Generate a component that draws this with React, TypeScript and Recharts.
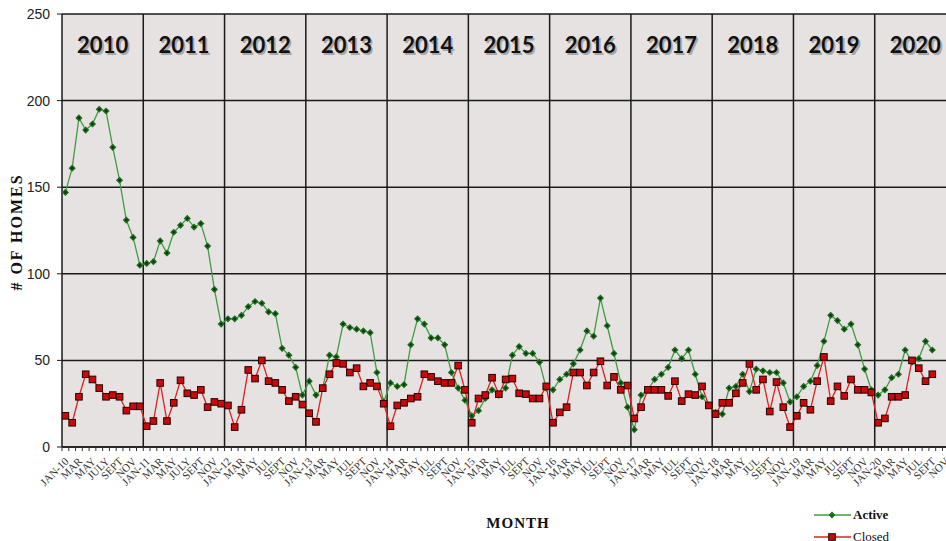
import React from "react";
import {
  LineChart,
  Line,
  XAxis,
  YAxis,
  CartesianGrid,
  ReferenceLine,
  Legend,
  Label,
} from "recharts";

// monthly counts, Jan 2010 .. Sep 2020
const active = [
  147, 161, 190, 183, 186.5, 195, 194, 173, 154, 131, 121, 105,
  106, 107, 119, 112, 124, 128, 132, 127, 129, 116, 91, 71,
  74, 74, 76, 81, 84, 83, 78, 77, 57, 53, 46, 30,
  38, 30, 34, 53, 52, 71, 69, 68, 67, 66, 43, 26,
  37, 35, 36, 59, 74, 71, 63, 63, 59, 43, 34, 27,
  18, 21, 28, 33, 30, 34, 53, 58, 54, 54, 49, 34,
  33, 39, 42, 48, 56, 67, 64, 86, 70, 54, 37, 23,
  10, 30, 33, 39, 42, 46, 56, 51, 56, 42, 29, 24,
  20, 19, 34, 35, 42, 32, 45, 44, 43, 43, 37, 26,
  29, 35, 38, 47, 61, 76, 73, 68, 71, 59, 45, 33,
  30, 33, 40, 42, 56, 49, 51, 61, 56,
];

const closed = [
  18, 14, 29, 42, 39, 34, 29, 30, 29, 21, 23.5, 23.5,
  12, 15, 37, 15, 25.5, 38.5, 31, 30, 33, 23, 26, 25,
  24, 11.5, 21.5, 44.5, 39.5, 50, 38, 37, 33, 26.5, 29, 24.5,
  19.5, 14.5, 34, 42, 48.5, 48, 43, 45.5, 35, 37, 35, 25,
  12, 24, 25.5, 28, 29, 42, 40.5, 38, 37, 37, 47, 33,
  14, 28, 30, 40, 30.5, 39, 39.5, 31, 30.5, 28, 28, 35,
  14, 20, 23, 43, 43, 35.5, 43, 49.5, 35.5, 40.5, 33, 35.5,
  16.5, 23, 33, 33, 33, 29.5, 38, 26.5, 30.5, 30, 35, 24,
  19, 25.5, 25.5, 31, 37, 48, 33, 39, 20.5, 37.5, 23, 11.5,
  18, 25.5, 21.5, 38, 52, 26.5, 35, 29.5, 39, 33, 33, 31.5,
  14, 16.5, 29, 29, 30, 50, 45.5, 38, 42,
];

// every other month is labelled
const monthLabels = [
  "JAN-10", "MAR", "MAY", "JULY", "SEPT", "NOV",
  "JAN-11", "MAR", "MAY", "JULY", "SEPT", "NOV",
  "JAN-12", "MAR", "MAY", "JUL", "SEPT", "NOV",
  "JAN-13", "MAR", "MAY", "JUL", "SEPT", "NOV",
  "JAN-14", "MAR", "MAY", "JUL", "SEPT", "NOV",
  "JAN-15", "MAR", "MAY", "JUL", "SEPT", "NOV",
  "JAN-16", "MAR", "MAY", "JUL", "SEPT", "NOV",
  "JAN-17", "MAR", "MAY", "JUL", "SEPT", "NOV",
  "JAN-18", "MAR", "MAY", "JUL", "SEPT", "NOV",
  "JAN-19", "MAR", "MAY", "JUL", "SEPT", "NOV",
  "JAN-20", "MAR", "MAY", "JUL", "SEPT", "NOV",
];

const years = ["2010", "2011", "2012", "2013", "2014", "2015", "2016", "2017", "2018", "2019", "2020"];
const yTicks = [0, 50, 100, 150, 200, 250];

const data = active.map((a, i) => ({ i, active: a, closed: closed[i] }));

const N_BANDS = 132;
const bandEdges = Array.from({ length: N_BANDS + 1 }, (_, k) => k - 0.5);
const yearBreaks = years.slice(1).map((_, k) => (k + 1) * 12 - 0.5);

const PLOT_LEFT = 62;
const PLOT_RIGHT = 956;
const BAND = (PLOT_RIGHT - PLOT_LEFT) / N_BANDS;

const serif = "'Liberation Serif', 'DejaVu Serif', serif";

const MonthTick = (props: any) => {
  const { x, y, payload } = props;
  const k = Math.round(payload.value + 0.5);
  if (k % 2 !== 0 || k / 2 >= monthLabels.length) return <g />;
  const lx = x + BAND / 2 + 4;
  const ly = y + 9;
  return (
    <text
      x={lx}
      y={ly}
      transform={`rotate(-45 ${lx} ${ly})`}
      textAnchor="end"
      fontSize={11}
      fontFamily={serif}
      fill="#333"
    >
      {monthLabels[k / 2]}
    </text>
  );
};

const yearLabel = (year: string) => (props: any) => {
  const vb = props.viewBox || {};
  const x = vb.x ?? 0;
  const top = vb.y ?? 14;
  return (
    <g fontFamily="Lato, 'Open Sans', sans-serif" fontSize={22} fontWeight={700} textAnchor="middle">
      <text x={x + 1.8} y={top + 40.5} fill="#777" opacity={0.55}>
        {year}
      </text>
      <text x={x} y={top + 39} fill="#111">
        {year}
      </text>
    </g>
  );
};

const GreenDot = (props: any) => {
  const { cx, cy } = props;
  if (cx == null || cy == null) return <g />;
  return (
    <g>
      <polygon
        points={`${cx},${cy - 3.6} ${cx + 3.6},${cy} ${cx},${cy + 3.6} ${cx - 3.6},${cy}`}
        fill="#1d6b1d"
      />
      <circle cx={cx} cy={cy} r={1.3} fill="#0a3a0a" />
    </g>
  );
};

const RedDot = (props: any) => {
  const { cx, cy } = props;
  if (cx == null || cy == null) return <g />;
  return <rect x={cx - 3.3} y={cy - 3.3} width={6.6} height={6.6} fill="#c80a0a" stroke="#2a0000" strokeWidth={1} />;
};

const LegendBox = () => (
  <div style={{ fontFamily: serif, fontSize: 13, color: "#111", lineHeight: "22px" }}>
    <div style={{ display: "flex", alignItems: "center" }}>
      <svg width={40} height={10}>
        <line x1={1} y1={5} x2={38} y2={5} stroke="#3f9d3f" strokeWidth={1.4} />
        <polygon points="19,1.5 22.5,5 19,8.5 15.5,5" fill="#1d6b1d" />
      </svg>
      <span style={{ fontWeight: 700 }}>Active</span>
    </div>
    <div style={{ display: "flex", alignItems: "center" }}>
      <svg width={40} height={10}>
        <line x1={1} y1={5} x2={38} y2={5} stroke="#dd2020" strokeWidth={1.4} />
        <rect x={15.7} y={1.7} width={6.6} height={6.6} fill="#c80a0a" stroke="#2a0000" strokeWidth={1} />
      </svg>
      <span>Closed</span>
    </div>
  </div>
);

export default function App() {
  return (
    <div
      style={{
        position: "absolute",
        left: 0,
        top: 0,
        width: 946,
        height: 541,
        overflow: "hidden",
        background: "#fff",
      }}
    >
      <LineChart
        width={960}
        height={541}
        data={data}
        margin={{ top: 14, right: 960 - PLOT_RIGHT, bottom: 34, left: 0 }}
      >
        <CartesianGrid
          horizontal
          vertical={false}
          fill="#e6e2e2"
          stroke="#1a1a1a"
          strokeWidth={1.5}
        />
        <XAxis
          dataKey="i"
          type="number"
          domain={[-0.5, N_BANDS - 0.5]}
          allowDataOverflow
          ticks={bandEdges}
          interval={0}
          tick={<MonthTick />}
          tickSize={4}
          tickLine={{ stroke: "#333" }}
          axisLine={{ stroke: "#1a1a1a", strokeWidth: 1.5 }}
          height={60}
        >
          <Label
            content={() => (
              <text
                x={518}
                y={528}
                textAnchor="middle"
                fontFamily={serif}
                fontWeight={700}
                fontSize={15}
                letterSpacing={1}
                fill="#111"
              >
                MONTH
              </text>
            )}
          />
        </XAxis>
        <YAxis
          type="number"
          domain={[0, 250]}
          ticks={yTicks}
          interval={0}
          width={PLOT_LEFT}
          tickSize={5}
          tickMargin={7}
          tick={{ fontFamily: "'Liberation Sans', Arial, sans-serif", fontSize: 14, fill: "#222" }}
          tickLine={{ stroke: "#1a1a1a" }}
          axisLine={{ stroke: "#1a1a1a", strokeWidth: 1.5 }}
        >
          <Label
            content={() => (
              <text
                x={16}
                y={232}
                transform="rotate(-90 16 232)"
                textAnchor="middle"
                dominantBaseline="central"
                fontFamily={serif}
                fontWeight={700}
                fontSize={16}
                letterSpacing={2}
                fill="#111"
              >
                # OF HOMES
              </text>
            )}
          />
        </YAxis>
        {yearBreaks.map((x) => (
          <ReferenceLine key={x} x={x} stroke="#1a1a1a" strokeWidth={1.5} />
        ))}
        {years.map((yr, k) => (
          <ReferenceLine
            key={yr}
            x={k * 12 + 5.5}
            stroke="none"
            strokeWidth={0}
            ifOverflow="visible"
            label={yearLabel(yr)}
          />
        ))}
        <Line
          type="linear"
          dataKey="active"
          stroke="#3f9d3f"
          strokeWidth={1.3}
          dot={<GreenDot />}
          activeDot={false}
          isAnimationActive={false}
        />
        <Line
          type="linear"
          dataKey="closed"
          stroke="#dd2020"
          strokeWidth={1.3}
          dot={<RedDot />}
          activeDot={false}
          isAnimationActive={false}
        />
        <Legend
          layout="vertical"
          align="center"
          verticalAlign="middle"
          content={() => <LegendBox />}
          wrapperStyle={{ left: 813, top: 504, width: "auto" }}
        />
      </LineChart>
    </div>
  );
}
